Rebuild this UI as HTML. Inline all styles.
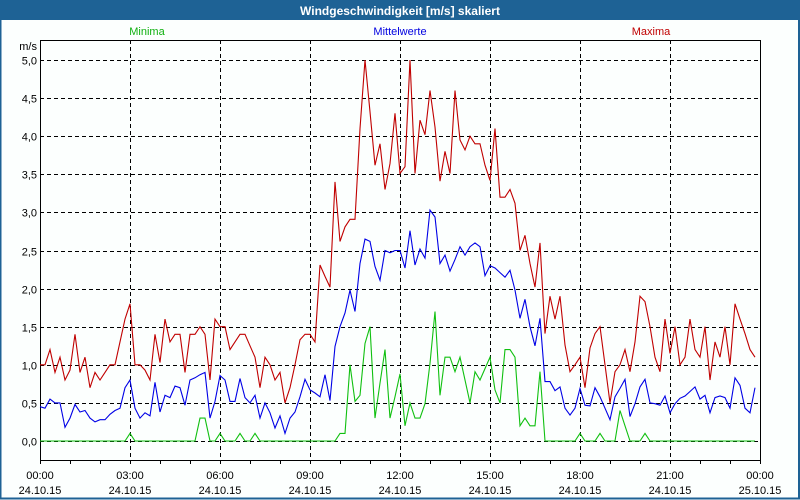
<!DOCTYPE html>
<html><head><meta charset="utf-8"><style>
html,body{margin:0;padding:0;background:#fff}
svg{display:block;font-family:"Liberation Sans",sans-serif}
</style></head><body>
<svg id="chart" width="800" height="500" viewBox="0 0 800 500">
<rect x="0" y="0" width="800" height="500" fill="#fcfffe"/>
<rect x="0" y="0" width="800" height="20" fill="#1e6295"/>
<rect x="0.5" y="0.5" width="798.5" height="498" fill="none" stroke="#1e6295" stroke-width="2"/>
<text x="400" y="15" text-anchor="middle" fill="#fff" font-size="12" font-weight="bold">Windgeschwindigkeit [m/s] skaliert</text>
<text x="147" y="35" text-anchor="middle" fill="#10b010" font-size="11">Minima</text>
<text x="400" y="35" text-anchor="middle" fill="#0000e0" font-size="11">Mittelwerte</text>
<text x="651" y="35" text-anchor="middle" fill="#c00000" font-size="11">Maxima</text>
<text x="37" y="50" text-anchor="end" fill="#000" font-size="11">m/s</text>
<g id="grid"></g>
<g id="axes"></g>
<g id="series"></g>
</svg>
<script>
const yTicks = [0,0.5,1,1.5,2,2.5,3,3.5,4,4.5,5];
const yTickLabels = ["0,0","0,5","1,0","1,5","2,0","2,5","3,0","3,5","4,0","4,5","5,0"];
const xTickHours = [0,3,6,9,12,15,18,21,24];
const xTimeLabels = ["00:00","03:00","06:00","09:00","12:00","15:00","18:00","21:00","00:00"];
const xDateLabels = ["24.10.15","24.10.15","24.10.15","24.10.15","24.10.15","24.10.15","24.10.15","24.10.15","25.10.15"];
const maxima = [1.0,1.0,1.2,0.9,1.1,0.8,0.93,1.4,0.9,1.1,0.7,0.9,0.8,0.9,1.0,1.0,1.3,1.6,1.8,1.0,1.0,0.93,0.8,1.4,1.03,1.6,1.3,1.4,1.4,0.9,1.4,1.4,1.5,1.4,0.8,1.6,1.5,1.5,1.2,1.3,1.4,1.4,1.25,1.1,0.7,1.1,1.0,0.8,0.9,0.5,0.7,1.0,1.33,1.4,1.4,1.3,2.31,2.16,2.02,3.4,2.62,2.81,2.91,2.91,4.1,5.0,4.32,3.62,3.9,3.3,3.64,4.3,3.51,3.6,5.0,3.51,4.21,4.02,4.6,4.12,3.41,3.8,3.51,4.6,3.95,3.82,4.0,3.9,3.9,3.62,3.42,4.1,3.2,3.2,3.3,3.12,2.5,2.7,2.33,2.02,2.6,1.41,1.9,1.6,1.9,1.26,0.91,1.0,1.1,0.7,1.22,1.41,1.5,1.0,0.5,0.91,1.0,1.2,0.91,1.3,1.9,1.83,1.5,1.1,0.91,1.6,1.15,1.5,1.0,1.1,1.6,1.2,1.1,1.5,0.8,1.3,1.1,1.5,1.0,1.8,1.6,1.41,1.2,1.1];
const mittelwerte = [0.45,0.43,0.55,0.5,0.5,0.18,0.3,0.48,0.38,0.4,0.3,0.25,0.28,0.28,0.35,0.4,0.43,0.7,0.8,0.43,0.3,0.37,0.33,0.77,0.38,0.6,0.57,0.72,0.7,0.47,0.8,0.83,0.87,0.9,0.3,0.52,0.86,0.8,0.52,0.52,0.82,0.57,0.5,0.6,0.3,0.5,0.37,0.17,0.33,0.1,0.3,0.38,0.58,0.81,0.67,0.63,0.58,0.87,0.53,1.24,1.5,1.68,1.98,1.7,2.33,2.65,2.62,2.29,2.11,2.5,2.47,2.5,2.5,2.27,2.76,2.31,2.52,2.4,3.03,2.94,2.33,2.44,2.23,2.38,2.55,2.44,2.55,2.6,2.55,2.17,2.3,2.27,2.21,2.15,2.24,1.98,1.61,1.86,1.5,1.25,1.61,0.78,0.78,0.66,0.71,0.43,0.34,0.43,0.69,0.47,0.46,0.7,0.58,0.43,0.28,0.58,0.69,0.81,0.32,0.49,0.71,0.81,0.5,0.49,0.47,0.59,0.37,0.49,0.56,0.59,0.65,0.71,0.55,0.6,0.37,0.57,0.59,0.57,0.43,0.83,0.73,0.43,0.37,0.7];
const minima = [0,0,0,0,0,0,0,0,0,0,0,0,0,0,0,0,0,0,0.1,0,0,0,0,0,0,0,0,0,0,0,0,0,0.3,0.3,0,0,0.1,0,0,0,0.1,0,0,0.1,0,0,0,0,0,0,0,0,0,0,0,0,0,0,0,0,0.1,0.1,1.0,0.52,0.6,1.28,1.5,0.3,0.76,1.2,0.3,0.58,0.88,0.2,0.5,0.3,0.3,0.49,1.02,1.7,0.6,1.1,1.1,0.91,1.1,0.8,0.5,0.91,0.8,0.95,1.1,0.67,0.5,1.2,1.2,1.1,0.2,0.3,0.2,0.2,0.91,0,0,0,0,0,0,0,0.1,0,0,0,0.1,0,0,0,0.4,0.2,0,0,0,0.1,0,0,0,0,0,0,0,0,0,0,0,0,0,0,0,0,0,0,0,0,0,0];

const NS="http://www.w3.org/2000/svg";
const X0=40,X1=760,Y0=441,YTOP=40,YBOT=460;
function xHour(h){return X0+h*30;}
function xIdx(i){return X0+i*5;}
function yVal(v){return Y0-v*76.2;}
function mk(tag,attrs,parent){const e=document.createElementNS(NS,tag);for(const k in attrs)e.setAttribute(k,attrs[k]);parent.appendChild(e);return e;}
const grid=document.getElementById('grid'),axes=document.getElementById('axes'),series=document.getElementById('series');

yTicks.forEach((v,i)=>{
  const y=Math.round(yVal(v))+0.5;
  const l=mk('line',{x1:X0,x2:X1,y1:y,y2:y,stroke:'#000','stroke-dasharray':'4,3','stroke-width':1},grid);
  
  
  const t=mk('text',{x:37,y:y+4,'text-anchor':'end','font-size':11,fill:'#000'},axes);
  t.textContent=yTickLabels[i];
  
  
});
xTickHours.forEach((h,i)=>{
  const x=xHour(h)+0.5;
  if(h>0&&h<24){
    const l=mk('line',{x1:x,x2:x,y1:YTOP,y2:YBOT,stroke:'#000','stroke-dasharray':'4,3','stroke-width':1},grid);
    
    
  }
  const t1=mk('text',{x:xHour(h),y:479,'text-anchor':'middle','font-size':11,fill:'#000'},axes);
  t1.textContent=xTimeLabels[i];
  
  
  const t2=mk('text',{x:xHour(h),y:494,'text-anchor':'middle','font-size':11,fill:'#000'},axes);
  t2.textContent=xDateLabels[i];
  
  
});
for(let h=0;h<=24;h++){
  const x=xHour(h)+0.5;
  const tk=mk('line',{x1:x,x2:x,y1:YBOT,y2:YBOT+4,stroke:'#000'},axes);
  
  
}
const frame=mk('rect',{x:X0+0.5,y:YTOP+0.5,width:X1-X0,height:YBOT-YTOP,fill:'none',stroke:'#000','stroke-width':1},axes);



function drawLine(arr,color,name){
  const pts=arr.map((v,i)=>xIdx(i)+','+yVal(v).toFixed(1)).join(' ');
  const p=mk('polyline',{points:pts,fill:'none',stroke:color,'stroke-width':1.1},series);
  
  
}
drawLine(minima,'#10c010','minima-line');
drawLine(mittelwerte,'#0000e6','mittelwerte-line');
drawLine(maxima,'#c00000','maxima-line');
</script>
</body></html>
